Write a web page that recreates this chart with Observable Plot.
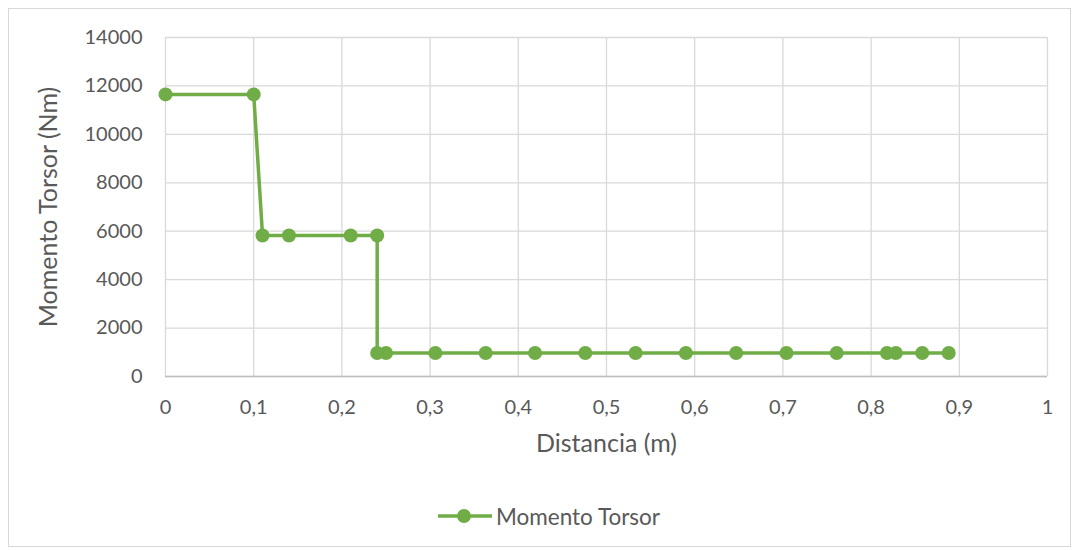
<!DOCTYPE html>
<html>
<head>
<meta charset="utf-8">
<script src="https://cdn.jsdelivr.net/npm/d3@7"></script>
<script src="https://cdn.jsdelivr.net/npm/@observablehq/plot@0.6"></script>
<style>
  body { margin: 0; background: #fff; }
  #wrap { position: relative; width: 1075px; height: 550px; font-family: Lato, sans-serif; color: #595959; }
  #frame { position: absolute; left: 8px; top: 8px; width: 1063px; height: 539px; border: 1px solid #d9d9d9; box-sizing: border-box; }
  #chart { position: absolute; left: 0; top: 0; }
  #legend { position: absolute; left: 437px; top: 502px; display: flex; align-items: center; font-size: 22.5px; }
</style>
</head>
<body>
<div id="wrap">
  <div id="frame"></div>
  <div id="chart"></div>
  <div id="legend">
    <svg width="56" height="28"><line x1="1" y1="14" x2="55" y2="14" stroke="#70ad47" stroke-width="3.5"/><circle cx="27" cy="14" r="7" fill="#70ad47"/></svg>
    <span style="margin-left:3px">Momento Torsor</span>
  </div>
</div>
<script>
const distance = [0, 0.1, 0.11, 0.14, 0.21, 0.24, 0.24, 0.25, 0.306, 0.363, 0.419, 0.476, 0.533, 0.590, 0.647, 0.704, 0.761, 0.818, 0.828, 0.858, 0.888];
const torque = [11650, 11650, 5825, 5825, 5825, 5825, 970, 970, 970, 970, 970, 970, 970, 970, 970, 970, 970, 970, 970, 970, 970];
const xTicks = [0, 0.1, 0.2, 0.3, 0.4, 0.5, 0.6, 0.7, 0.8, 0.9, 1];
const yTicks = [0, 2000, 4000, 6000, 8000, 10000, 12000, 14000];
const xTitle = "Distancia (m)";
const yTitle = "Momento Torsor (Nm)";

const data = distance.map((d, i) => ({x: d, y: torque[i]}));
const fmtX = d => String(d).replace(".", ",");
const fmtY = d => String(d);

const chart = Plot.plot({
  width: 1075,
  height: 550,
  marginLeft: 165,
  marginRight: 28,
  marginTop: 37,
  marginBottom: 174,
  style: {fontFamily: "Lato, sans-serif", fontSize: "20px", color: "#595959", background: "transparent"},
  x: {domain: [0, 1]},
  y: {domain: [0, 14000]},
  marks: [
    Plot.gridX(xTicks, {stroke: "#d9d9d9", strokeOpacity: 1, strokeWidth: 1.3}),
    Plot.gridY(yTicks, {stroke: "#d9d9d9", strokeOpacity: 1, strokeWidth: 1.3}),
    Plot.ruleY([0], {stroke: "#bfbfbf", strokeWidth: 1.3}),
    Plot.axisX(xTicks, {tickSize: 0, tickPadding: 23, tickFormat: fmtX, label: null, fontSize: 20}),
    Plot.axisY(yTicks, {tickSize: 0, tickPadding: 23, tickFormat: fmtY, label: null, fontSize: 20}),
    Plot.line(data, {x: "x", y: "y", stroke: "#70ad47", strokeWidth: 3.5}),
    Plot.dot(data, {x: "x", y: "y", r: 7, fill: "#70ad47"}),
    Plot.text([xTitle], {frameAnchor: "bottom", dy: 75, fontSize: 25, textAnchor: "middle", text: d => d}),
    Plot.text([yTitle], {frameAnchor: "left", dx: -117, rotate: -90, fontSize: 25, textAnchor: "middle", text: d => d})
  ]
});
document.getElementById("chart").append(chart);
</script>
</body>
</html>
